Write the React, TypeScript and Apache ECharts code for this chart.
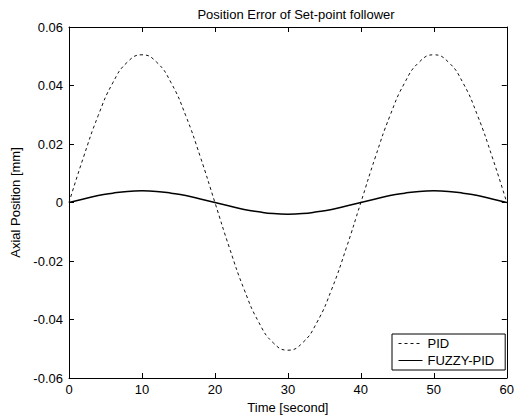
import React, { useEffect, useRef } from "react";
import * as echarts from "echarts";

const timeSec = [0, 2, 4, 6, 8, 10, 12, 14, 16, 18, 20, 22, 24, 26, 28, 30, 32, 34, 36, 38, 40, 42, 44, 46, 48, 50, 52, 54, 56, 58, 60];
const pidError = [0, 0.0156, 0.0297, 0.0409, 0.048, 0.0505, 0.048, 0.0409, 0.0297, 0.0156, 0, -0.0156, -0.0297, -0.0409, -0.048, -0.0505, -0.048, -0.0409, -0.0297, -0.0156, 0, 0.0156, 0.0297, 0.0409, 0.048, 0.0505, 0.048, 0.0409, 0.0297, 0.0156, 0];
const fuzzyError = [0, 0.0012, 0.0024, 0.0032, 0.0038, 0.004, 0.0038, 0.0032, 0.0024, 0.0012, 0, -0.0012, -0.0024, -0.0032, -0.0038, -0.004, -0.0038, -0.0032, -0.0024, -0.0012, 0, 0.0012, 0.0024, 0.0032, 0.0038, 0.004, 0.0038, 0.0032, 0.0024, 0.0012, 0];

const FONT = "'Liberation Sans', Arial, sans-serif";

export default function App() {
  const ref = useRef<HTMLDivElement>(null);
  useEffect(() => {
    if (!ref.current) return;
    const chart = echarts.init(ref.current, undefined, { renderer: "svg" });
    const pid = timeSec.map((t, i) => [t, pidError[i]]);
    const fuzzy = timeSec.map((t, i) => [t, fuzzyError[i]]);
    const axisCommon = {
      axisLine: { show: true, onZero: false, lineStyle: { color: "#000", width: 1 } },
      axisTick: { show: true, inside: true, length: 5, lineStyle: { color: "#000" } },
      splitLine: { show: false },
    };
    chart.setOption({
      animation: false,
      backgroundColor: "#fff",
      textStyle: { fontFamily: FONT },
      title: {
        text: "Position Error of Set-point follower",
        left: 291,
        textAlign: "center",
        top: 3,
        textStyle: { fontFamily: FONT, fontSize: 13, fontWeight: "normal", color: "#000" },
      },
      grid: { left: 69, right: 3, top: 27, bottom: 41 },
      legend: {
        orient: "vertical",
        left: 392,
        top: 334,
        width: 116,
        itemWidth: 24,
        itemHeight: 10,
        itemGap: 4,
        padding: [3, 11, 3, 6],
        borderColor: "#000",
        borderWidth: 1,
        backgroundColor: "#fff",
        itemStyle: { opacity: 0 },
        lineStyle: { width: 1 },
        textStyle: { fontFamily: FONT, fontSize: 13, color: "#000" },
        data: ["PID", "FUZZY-PID"],
      },
      xAxis: [
        {
          type: "value",
          min: 0,
          max: 60,
          interval: 10,
          position: "bottom",
          name: "Time [second]",
          nameLocation: "middle",
          nameGap: 22,
          nameTextStyle: { fontFamily: FONT, fontSize: 13, color: "#000" },
          axisLabel: { fontFamily: FONT, fontSize: 13, color: "#000", margin: 5 },
          ...axisCommon,
        },
        {
          type: "value",
          min: 0,
          max: 60,
          interval: 10,
          position: "top",
          axisLabel: { show: false },
          ...axisCommon,
        },
      ],
      yAxis: [
        {
          type: "value",
          min: -0.06,
          max: 0.06,
          interval: 0.02,
          position: "left",
          name: "Axial Position [mm]",
          nameLocation: "middle",
          nameGap: 45,
          nameTextStyle: { fontFamily: FONT, fontSize: 13, color: "#000" },
          axisLabel: {
            fontFamily: FONT,
            fontSize: 13,
            color: "#000",
            margin: 6,
            formatter: (v: number) => (Math.abs(v) < 1e-9 ? "0" : v.toFixed(2)),
          },
          ...axisCommon,
        },
        {
          type: "value",
          min: -0.06,
          max: 0.06,
          interval: 0.02,
          position: "right",
          axisLabel: { show: false },
          ...axisCommon,
        },
      ],
      series: [
        {
          name: "PID",
          type: "line",
          data: pid,
          smooth: 0.5,
          symbol: "none",
          lineStyle: { color: "#111", width: 1, type: [3, 3] },
          itemStyle: { color: "#111" },
        },
        {
          name: "FUZZY-PID",
          type: "line",
          data: fuzzy,
          smooth: 0.5,
          symbol: "none",
          lineStyle: { color: "#000", width: 1.5, type: "solid" },
          itemStyle: { color: "#000" },
        },
      ],
    });
    return () => chart.dispose();
  }, []);
  return (
    <div
      ref={ref}
      style={{ position: "fixed", left: 0, top: 0, width: 517, height: 419, background: "#fff" }}
    />
  );
}
